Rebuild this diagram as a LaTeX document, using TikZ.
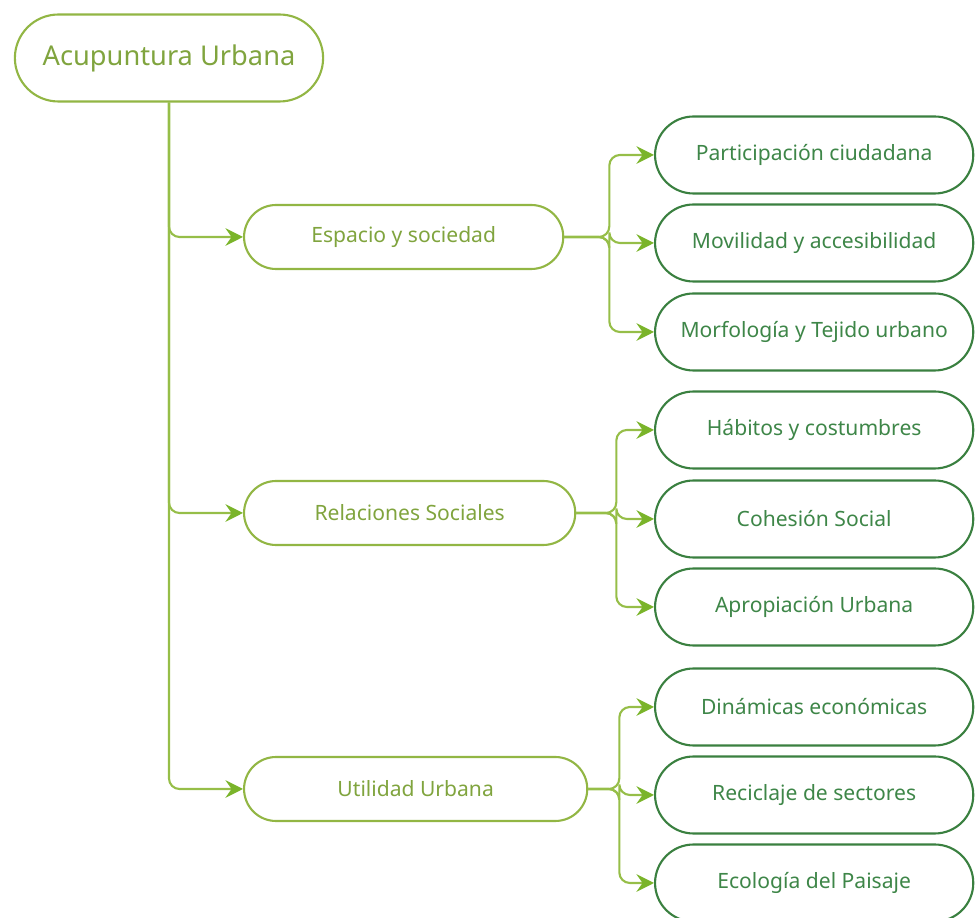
\documentclass[tikz,border=0pt]{standalone}
\usepackage{fontspec}
\setmainfont{Noto Sans}
\usetikzlibrary{shapes.misc,arrows.meta}

\definecolor{auOlive}{RGB}{146,182,68}
\definecolor{auOliveText}{RGB}{128,164,62}
\definecolor{auGreen}{RGB}{58,128,64}
\definecolor{auGreenText}{RGB}{62,134,72}
\definecolor{auLine}{RGB}{150,190,72}
\definecolor{auTip}{RGB}{122,180,42}

\begin{document}
\begin{tikzpicture}[x=0.02cm, y=-0.02cm,
    rootbox/.style={rounded rectangle, draw=auOlive, line width=1.2pt, text=auOliveText,
      minimum width=6.4cm, minimum height=1.74cm, font=\fontsize{15.5}{18}\selectfont},
    topicbox/.style={rounded rectangle, draw=auOlive, line width=1.2pt, text=auOliveText,
      minimum height=1.28cm, anchor=west, font=\fontsize{12}{14}\selectfont},
    leafbox/.style={rounded rectangle, draw=auGreen, line width=1.2pt, text=auGreenText,
      minimum width=6.6cm, minimum height=1.54cm, anchor=west, font=\fontsize{12}{14}\selectfont},
    link/.style={draw=auLine, line width=1.2pt, rounded corners=6pt,
      -{Stealth[length=10pt, width=10pt, inset=3.5pt, color=auTip]}}]
  \useasboundingbox (0,0) rectangle (975,918);

  % Root
  \node[rootbox] (root) at (169,58) {Acupuntura Urbana};

  % Topics
  \node[topicbox, minimum width=6.62cm] (espacio) at (243,237) {Espacio y sociedad};
  \node[topicbox, minimum width=6.86cm] (relaciones) at (243,513) {Relaciones Sociales};
  \node[topicbox, minimum width=7.1cm] (utilidad) at (243,789) {Utilidad Urbana};

  % Leaves
  \node[leafbox] (participacion) at (654,155) {Participación ciudadana};
  \node[leafbox] (movilidad) at (654,243) {Movilidad y accesibilidad};
  \node[leafbox] (morfologia) at (654,332) {Morfología y Tejido urbano};
  \node[leafbox] (habitos) at (654,430) {Hábitos y costumbres};
  \node[leafbox] (cohesion) at (654,519) {Cohesión Social};
  \node[leafbox] (apropiacion) at (654,607) {Apropiación Urbana};
  \node[leafbox] (dinamicas) at (654,707) {Dinámicas económicas};
  \node[leafbox] (reciclaje) at (654,795) {Reciclaje de sectores};
  \node[leafbox] (ecologia) at (654,883) {Ecología del Paisaje};

  % Root to topics
  \draw[link] (root.south) |- (espacio.west);
  \draw[link] (root.south) |- (relaciones.west);
  \draw[link] (root.south) |- (utilidad.west);

  % Topics to leaves
  \draw[link] (espacio.east) -- ++(45,0) |- (participacion.west);
  \draw[link] (espacio.east) -- ++(45,0) |- (movilidad.west);
  \draw[link] (espacio.east) -- ++(45,0) |- (morfologia.west);
  \draw[link] (relaciones.east) -- ++(40,0) |- (habitos.west);
  \draw[link] (relaciones.east) -- ++(40,0) |- (cohesion.west);
  \draw[link] (relaciones.east) -- ++(40,0) |- (apropiacion.west);
  \draw[link] (utilidad.east) -- ++(31,0) |- (dinamicas.west);
  \draw[link] (utilidad.east) -- ++(31,0) |- (reciclaje.west);
  \draw[link] (utilidad.east) -- ++(31,0) |- (ecologia.west);
\end{tikzpicture}
\end{document}
